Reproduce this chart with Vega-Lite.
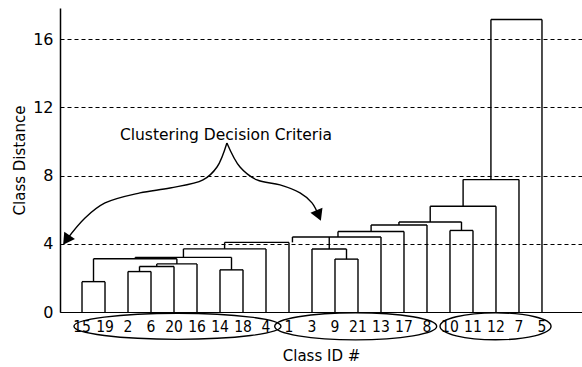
{
  "$schema": "https://vega.github.io/schema/vega-lite/v6.json",
  "width": 522,
  "height": 304,
  "autosize": "none",
  "padding": {"left": 60, "top": 8, "right": 0, "bottom": 55},
  "background": "white",
  "config": {"view": {"stroke": null}, "font": "DejaVu Sans"},
  "datasets": {
    "seg": [
      {"x": 0, "x2": 0, "y": 0, "y2": 1.78},
      {"x": 1, "x2": 1, "y": 0, "y2": 1.78},
      {"x": 2, "x2": 2, "y": 0, "y2": 2.37},
      {"x": 3, "x2": 3, "y": 0, "y2": 2.37},
      {"x": 4, "x2": 4, "y": 0, "y2": 2.67},
      {"x": 5, "x2": 5, "y": 0, "y2": 2.82},
      {"x": 6, "x2": 6, "y": 0, "y2": 2.47},
      {"x": 7, "x2": 7, "y": 0, "y2": 2.47},
      {"x": 8, "x2": 8, "y": 0, "y2": 3.7},
      {"x": 9, "x2": 9, "y": 0, "y2": 4.08},
      {"x": 10, "x2": 10, "y": 0, "y2": 3.69},
      {"x": 11, "x2": 11, "y": 0, "y2": 3.1},
      {"x": 12, "x2": 12, "y": 0, "y2": 3.1},
      {"x": 13, "x2": 13, "y": 0, "y2": 4.4},
      {"x": 14, "x2": 14, "y": 0, "y2": 4.72},
      {"x": 15, "x2": 15, "y": 0, "y2": 5.1},
      {"x": 16, "x2": 16, "y": 0, "y2": 4.78},
      {"x": 17, "x2": 17, "y": 0, "y2": 4.78},
      {"x": 18, "x2": 18, "y": 0, "y2": 6.2},
      {"x": 19, "x2": 19, "y": 0, "y2": 7.76},
      {"x": 20, "x2": 20, "y": 0, "y2": 17.15},
      {"x": 0, "x2": 1, "y": 1.78, "y2": 1.78},
      {"x": 2, "x2": 3, "y": 2.37, "y2": 2.37},
      {"x": 2.5, "x2": 4, "y": 2.67, "y2": 2.67},
      {"x": 3.25, "x2": 5, "y": 2.82, "y2": 2.82},
      {"x": 6, "x2": 7, "y": 2.47, "y2": 2.47},
      {"x": 0.5, "x2": 4.125, "y": 3.12, "y2": 3.12},
      {"x": 2.31, "x2": 6.5, "y": 3.2, "y2": 3.2},
      {"x": 4.41, "x2": 8, "y": 3.7, "y2": 3.7},
      {"x": 6.2, "x2": 9, "y": 4.08, "y2": 4.08},
      {"x": 11, "x2": 12, "y": 3.1, "y2": 3.1},
      {"x": 10, "x2": 11.5, "y": 3.69, "y2": 3.69},
      {"x": 9.15, "x2": 13, "y": 4.4, "y2": 4.4},
      {"x": 11.13, "x2": 14, "y": 4.72, "y2": 4.72},
      {"x": 12.57, "x2": 15, "y": 5.1, "y2": 5.1},
      {"x": 16, "x2": 17, "y": 4.78, "y2": 4.78},
      {"x": 13.78, "x2": 16.5, "y": 5.28, "y2": 5.28},
      {"x": 15.14, "x2": 18, "y": 6.2, "y2": 6.2},
      {"x": 16.57, "x2": 19, "y": 7.76, "y2": 7.76},
      {"x": 17.78, "x2": 20, "y": 17.15, "y2": 17.15},
      {"x": 2.5, "x2": 2.5, "y": 2.37, "y2": 2.67},
      {"x": 3.25, "x2": 3.25, "y": 2.67, "y2": 2.82},
      {"x": 4.125, "x2": 4.125, "y": 2.82, "y2": 3.12},
      {"x": 0.5, "x2": 0.5, "y": 1.78, "y2": 3.12},
      {"x": 6.5, "x2": 6.5, "y": 2.47, "y2": 3.2},
      {"x": 2.31, "x2": 2.31, "y": 3.12, "y2": 3.2},
      {"x": 4.41, "x2": 4.41, "y": 3.2, "y2": 3.7},
      {"x": 6.2, "x2": 6.2, "y": 3.7, "y2": 4.08},
      {"x": 9.15, "x2": 9.15, "y": 4.08, "y2": 4.4},
      {"x": 11.5, "x2": 11.5, "y": 3.1, "y2": 3.69},
      {"x": 10.75, "x2": 10.75, "y": 3.69, "y2": 4.4},
      {"x": 11.13, "x2": 11.13, "y": 4.4, "y2": 4.72},
      {"x": 12.57, "x2": 12.57, "y": 4.72, "y2": 5.1},
      {"x": 13.78, "x2": 13.78, "y": 5.1, "y2": 5.28},
      {"x": 16.5, "x2": 16.5, "y": 4.78, "y2": 5.28},
      {"x": 15.14, "x2": 15.14, "y": 5.28, "y2": 6.2},
      {"x": 16.57, "x2": 16.57, "y": 6.2, "y2": 7.76},
      {"x": 17.78, "x2": 17.78, "y": 7.76, "y2": 17.15}
    ],
    "leaves": [
      {"i": 0, "id": "15"}, {"i": 1, "id": "19"}, {"i": 2, "id": "2"}, {"i": 3, "id": "6"},
      {"i": 4, "id": "20"}, {"i": 5, "id": "16"}, {"i": 6, "id": "14"}, {"i": 7, "id": "18"},
      {"i": 8, "id": "4"}, {"i": 9, "id": "1"}, {"i": 10, "id": "3"}, {"i": 11, "id": "9"},
      {"i": 12, "id": "21"}, {"i": 13, "id": "13"}, {"i": 14, "id": "17"}, {"i": 15, "id": "8"},
      {"i": 16, "id": "10"}, {"i": 17, "id": "11"}, {"i": 18, "id": "12"}, {"i": 19, "id": "7"},
      {"i": 20, "id": "5"}
    ],
    "curves": [
      {"side": "L", "o": 0, "x": 6.3, "y": 9.91},
      {"side": "L", "o": 1, "x": 5.87, "y": 8.5},
      {"side": "L", "o": 2, "x": 5.26, "y": 7.74},
      {"side": "L", "o": 3, "x": 3.83, "y": 7.27},
      {"side": "L", "o": 4, "x": 2.52, "y": 6.98},
      {"side": "L", "o": 5, "x": 1.0, "y": 6.39},
      {"side": "L", "o": 6, "x": 0.13, "y": 5.51},
      {"side": "L", "o": 7, "x": -0.68, "y": 4.22},
      {"side": "R", "o": 0, "x": 6.3, "y": 9.91},
      {"side": "R", "o": 1, "x": 6.87, "y": 8.5},
      {"side": "R", "o": 2, "x": 7.61, "y": 7.74},
      {"side": "R", "o": 3, "x": 8.61, "y": 7.45},
      {"side": "R", "o": 4, "x": 9.48, "y": 6.98},
      {"side": "R", "o": 5, "x": 10.0, "y": 6.4},
      {"side": "R", "o": 6, "x": 10.29, "y": 5.66}
    ],
    "heads": [
      {"side": "L", "x": -0.68, "y": 4.22},
      {"side": "R", "x": 10.29, "y": 5.66}
    ]
  },
  "layer": [
    {
      "data": {"name": "seg"},
      "mark": {"type": "rule", "color": "black", "strokeWidth": 1.4},
      "encoding": {
        "x": {
          "field": "x", "type": "quantitative",
          "scale": {"domain": [-0.957, 21.74], "nice": false, "zero": false},
          "axis": {
            "labels": false, "ticks": false, "grid": false,
            "domainColor": "black", "domainWidth": 1.2,
            "title": "Class ID #", "titleFont": "DejaVu Sans", "titleFontSize": 15,
            "titleFontWeight": "normal", "titleColor": "black", "titlePadding": 36
          }
        },
        "x2": {"field": "x2"},
        "y": {
          "field": "y", "type": "quantitative",
          "scale": {"domain": [0, 17.82], "nice": false, "zero": true},
          "axis": {
            "values": [0, 4, 8, 12, 16],
            "grid": true, "gridDash": [4, 3], "gridColor": "black", "gridOpacity": 1, "gridWidth": 1.2,
            "ticks": false, "labelPadding": 7,
            "labelFont": "DejaVu Sans", "labelFontSize": 16, "labelColor": "black",
            "domainColor": "black", "domainWidth": 1.5,
            "title": "Class Distance", "titleFont": "DejaVu Sans", "titleFontSize": 15,
            "titleFontWeight": "normal", "titleColor": "black", "titlePadding": 5
          }
        },
        "y2": {"field": "y2"}
      }
    },
    {
      "data": {"name": "leaves"},
      "mark": {"type": "text", "font": "DejaVu Sans Condensed", "fontSize": 15.5, "color": "black", "align": "center", "baseline": "middle"},
      "encoding": {
        "x": {"field": "i", "type": "quantitative"},
        "y": {"datum": -0.86},
        "text": {"field": "id"}
      }
    },
    {
      "data": {"name": "curves"},
      "mark": {"type": "line", "color": "black", "strokeWidth": 1.4, "interpolate": "catmull-rom"},
      "encoding": {
        "x": {"field": "x", "type": "quantitative"},
        "y": {"field": "y", "type": "quantitative"},
        "order": {"field": "o", "type": "quantitative"},
        "detail": {"field": "side", "type": "nominal"}
      }
    },
    {
      "data": {"name": "heads"},
      "mark": {"type": "point", "shape": "triangle-down", "filled": true, "color": "black", "opacity": 1, "size": 170},
      "encoding": {
        "x": {"field": "x", "type": "quantitative"},
        "y": {"field": "y", "type": "quantitative"},
        "angle": {"field": "side", "type": "nominal", "scale": {"domain": ["L", "R"], "range": [35, -23]}, "legend": null}
      }
    },
    {
      "data": {"values": [{"group": "A"}]},
      "mark": {"type": "point", "filled": false, "color": "black", "strokeWidth": 1.4, "opacity": 1, "size": 42849,
        "shape": "M-1,0C-1,-0.0696,-0.5523,-0.126,0,-0.126C0.5523,-0.126,1,-0.0696,1,0C1,0.0696,0.5523,0.126,0,0.126C-0.5523,0.126,-1,0.0696,-1,0Z"},
      "encoding": {"x": {"datum": 4.15}, "y": {"datum": -0.84}}
    },
    {
      "data": {"values": [{"group": "B"}]},
      "mark": {"type": "point", "filled": false, "color": "black", "strokeWidth": 1.4, "opacity": 1, "size": 26244,
        "shape": "M-1,0C-1,-0.0922,-0.5523,-0.167,0,-0.167C0.5523,-0.167,1,-0.0922,1,0C1,0.0922,0.5523,0.167,0,0.167C-0.5523,0.167,-1,0.0922,-1,0Z"},
      "encoding": {"x": {"datum": 11.9}, "y": {"datum": -0.84}}
    },
    {
      "data": {"values": [{"group": "C"}]},
      "mark": {"type": "point", "filled": false, "color": "black", "strokeWidth": 1.4, "opacity": 1, "size": 12321,
        "shape": "M-1,0C-1,-0.1342,-0.5523,-0.243,0,-0.243C0.5523,-0.243,1,-0.1342,1,0C1,0.1342,0.5523,0.243,0,0.243C-0.5523,0.243,-1,0.1342,-1,0Z"},
      "encoding": {"x": {"datum": 17.98}, "y": {"datum": -0.84}}
    },
    {
      "data": {"values": [{"label": "Clustering Decision Criteria"}]},
      "mark": {"type": "text", "font": "DejaVu Sans", "fontSize": 15.5, "color": "black", "align": "center", "baseline": "alphabetic"},
      "encoding": {
        "text": {"field": "label"},
        "x": {"datum": 6.26},
        "y": {"datum": 10.08}
      }
    }
  ]
}
